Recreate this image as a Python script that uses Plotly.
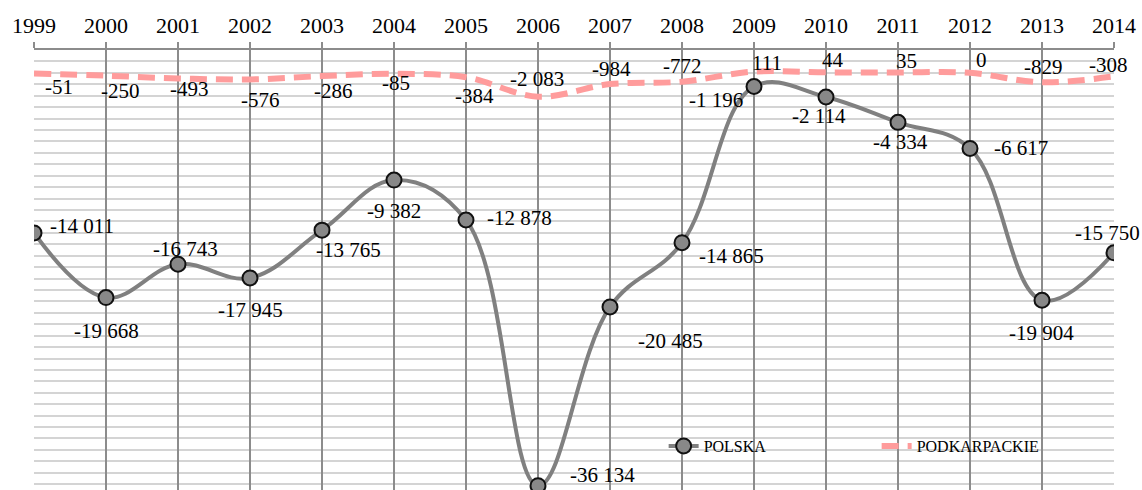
import plotly.graph_objects as go

years = list(range(1999, 2015))
polska = [-14011, -19668, -16743, -17945, -13765, -9382, -12878, -36134,
          -20485, -14865, -1196, -2114, -4334, -6617, -19904, -15750]
podkarpackie = [-51, -250, -493, -576, -286, -85, -384, -2083,
                -984, -772, 111, 44, 35, 0, -829, -308]

def fmt(v):
    s = f"{abs(v):,}".replace(",", " ")
    return ("-" if v < 0 else "") + s

# label offsets in px (xshift, yshift)
pol_off = [(48, 7), (0, -33), (7, 15), (0, -32), (26, -20), (0, -31), (53, 2), (64, 11),
           (60, -34), (49, -13), (-38, -13), (-7, -19), (2, -20), (51, 0), (-1, -33), (-7, 20)]
pod_off = [(25, -14), (14, -15), (11, -11), (10, -21), (11, -15), (2, -9), (8, -19), (-1, 18),
           (1, 15), (0, 16), (13, 9), (7, 12), (8, 11), (11, 13), (1, 15), (-6, 11)]

FONT = "Liberation Serif"
VGRID = "#8c8c8c"

fig = go.Figure()
# invisible helper trace so the vertical grid (xaxis2) is drawn above the horizontal grid
fig.add_trace(go.Scatter(
    x=years, y=polska, xaxis="x2", mode="markers", marker=dict(opacity=0),
    showlegend=False, hoverinfo="skip",
))
fig.add_trace(go.Scatter(
    x=years, y=polska, name="POLSKA", mode="lines+markers",
    line=dict(color="#808080", width=4, shape="spline", smoothing=1.1),
    marker=dict(size=15, color="#888888", line=dict(color="#111111", width=2)),
))
fig.add_trace(go.Scatter(
    x=years, y=podkarpackie, name="PODKARPACKIE", mode="lines",
    line=dict(color="#ff9c9c", width=6, shape="spline", smoothing=1.0, dash="17px,9px"),
))

annotations = []
for yr, v, (dx, dy) in zip(years, polska, pol_off):
    annotations.append(dict(x=yr, y=v, text=fmt(v), showarrow=False,
                            xshift=dx, yshift=dy, font=dict(family=FONT, size=21, color="black")))
for yr, v, (dx, dy) in zip(years, podkarpackie, pod_off):
    annotations.append(dict(x=yr, y=v, text=fmt(v), showarrow=False,
                            xshift=dx, yshift=dy, font=dict(family=FONT, size=21, color="black")))

fig.update_layout(
    width=1142, height=490,
    margin=dict(l=34, r=28, t=50, b=0, autoexpand=False),
    paper_bgcolor="white", plot_bgcolor="white",
    showlegend=True,
    legend=dict(orientation="h", x=0.583, y=0.1, xanchor="left", yanchor="middle",
                bgcolor="rgba(0,0,0,0)", font=dict(family=FONT, size=16, color="black"),
                entrywidth=168, entrywidthmode="pixels", traceorder="normal"),
    annotations=annotations,
    xaxis=dict(side="top", range=[1999, 2014], tickmode="array", tickvals=years,
               ticktext=[str(y) for y in years], automargin=False,
               tickfont=dict(family=FONT, size=22, color="black"),
               showgrid=False,
               ticks="outside", ticklen=6, tickcolor=VGRID, tickwidth=2,
               showline=True, linecolor=VGRID, linewidth=2, zeroline=False,
               fixedrange=True),
    xaxis2=dict(overlaying="x", side="top", range=[1999, 2014], tickmode="array",
                tickvals=years, showticklabels=False, ticks="", automargin=False,
                showgrid=True, gridcolor=VGRID, gridwidth=2, zeroline=False,
                showline=False, fixedrange=True),
    yaxis=dict(range=[-36509, 2000], dtick=1000, tick0=0, showticklabels=False,
               automargin=False,
               showgrid=True, gridcolor="#d4d4d4", gridwidth=2, zeroline=False,
               showline=False, fixedrange=True),
)

fig.write_html("out.html", config={"displayModeBar": False},
               post_script="document.body.style.margin='0';document.body.style.overflow='hidden';")
